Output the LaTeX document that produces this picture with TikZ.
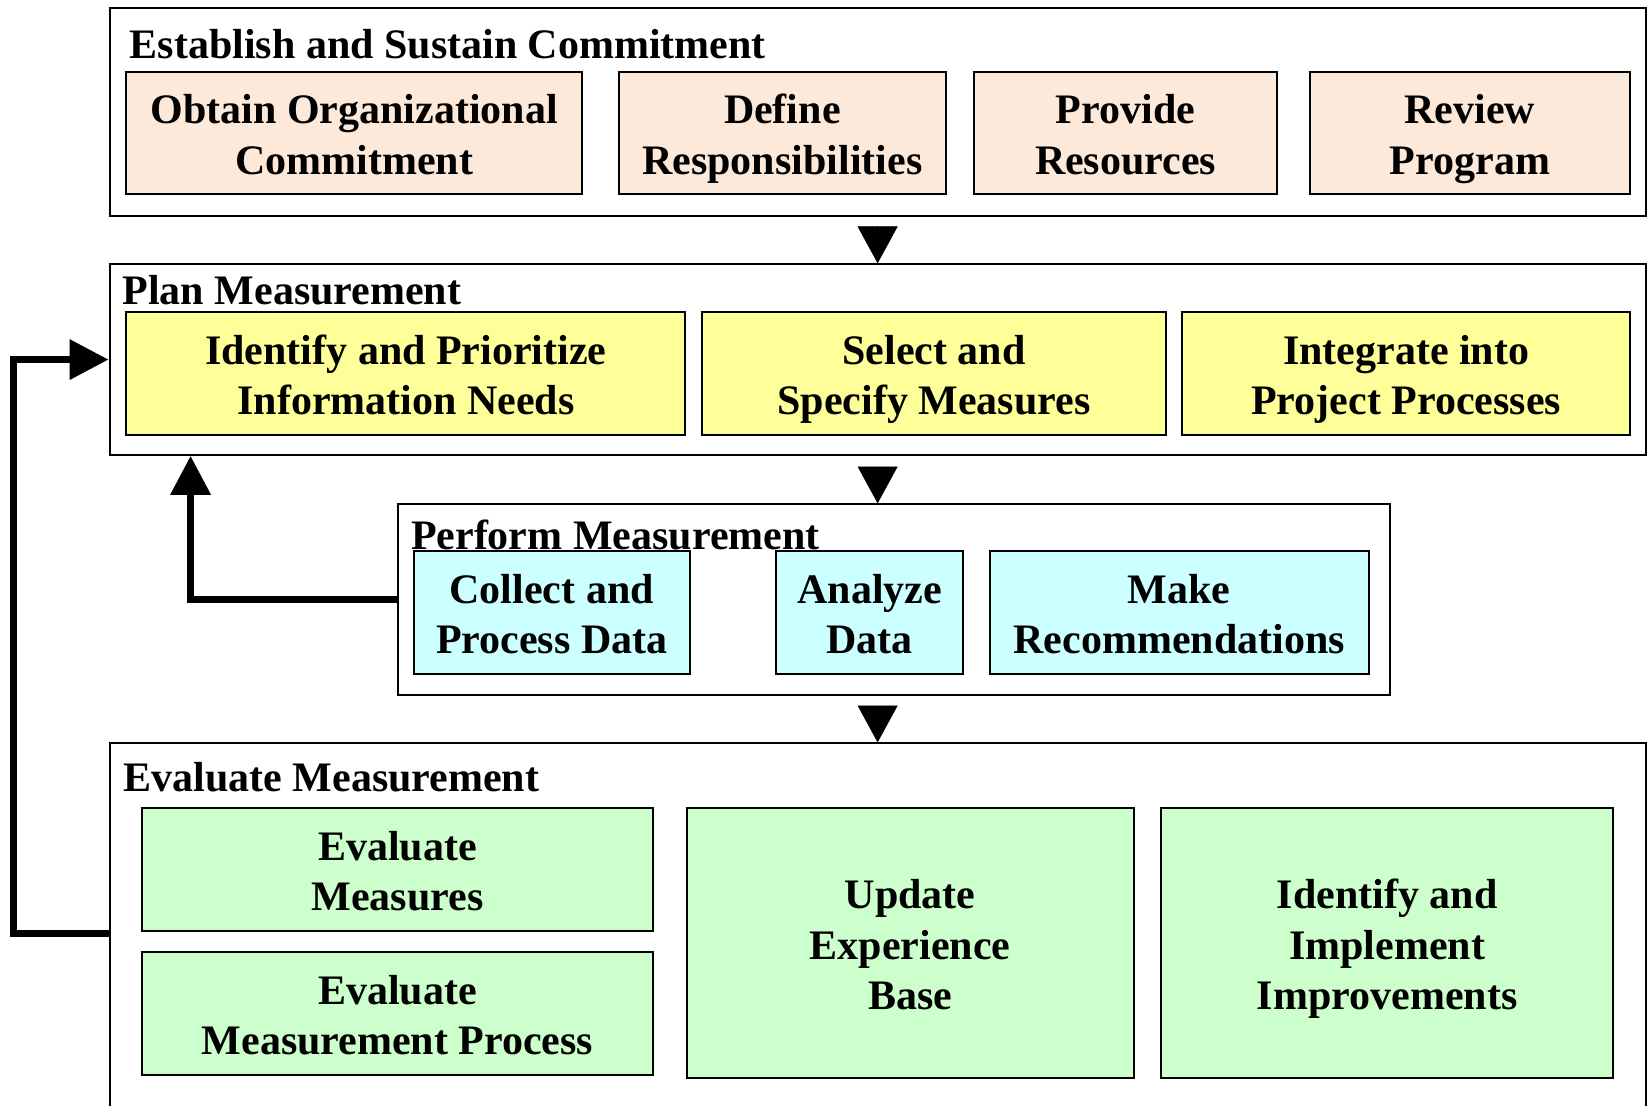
\documentclass[tikz,border=0pt]{standalone}
\usepackage{fontspec}
\setmainfont{Liberation Serif}
\usetikzlibrary{fit,arrows.meta}
\definecolor{peach}{HTML}{FDE9D9}
\definecolor{lemon}{HTML}{FFFF99}
\definecolor{aqua}{HTML}{CCFFFF}
\definecolor{mint}{HTML}{CCFFCC}
\newcommand{\lines}[1]{\begin{tabular}{@{}c@{}}#1\end{tabular}}

\begin{document}
\begin{tikzpicture}[x=0.52645pt, y=-0.52645pt,
      every node/.style = {inner sep=0pt,
        font=\bfseries\fontsize{21}{25.3}\selectfont},
      phase/.style = {draw, line width=1pt},
      activity/.style = {draw, line width=1pt},
      boxtext/.style = {anchor=center, yshift=-3pt},
      phasetitle/.style = {anchor=base west},
      flowtip/.style = {-{Triangle[width=20pt,length=18.4pt]}, line width=0.2pt},
      loopback/.style = {line width=3.5pt, -{Triangle[width=19.5pt,length=19.5pt]}}]
    \useasboundingbox (0,0) rectangle (1568,1050);
    \begin{scope}
    \clip (0,0) rectangle (1568,1050);
    % the four phases
    \node[phase, fit={(104,8) (1563,205)}] (estab) {};
    \node[phase, fit={(104,251) (1563,432)}] (plan) {};
    \node[phase, fit={(378,479) (1320,660)}] (perform) {};
    \node[phase, fit={(104,706) (1563,1068)}] (eval) {};
    \end{scope}
    \node[phasetitle] (estabtitle) at (123,56) {Establish and Sustain Commitment};
    \node[phasetitle] (plantitle) at (116,289) {Plan Measurement};
    \node[phasetitle] (performtitle) at (390,522) {Perform Measurement};
    \node[phasetitle] (evaltitle) at (117,752) {Evaluate Measurement};
    % activities
    \node[activity, fill=peach, fit={(120,68) (553,184)}] (obtain) {};
    \node[activity, fill=peach, fit={(588,68) (898,184)}] (define) {};
    \node[activity, fill=peach, fit={(925,68) (1213,184)}] (provide) {};
    \node[activity, fill=peach, fit={(1244,68) (1548,184)}] (review) {};
    \node[activity, fill=lemon, fit={(120,296) (651,413)}] (identify) {};
    \node[activity, fill=lemon, fit={(667,296) (1107,413)}] (select) {};
    \node[activity, fill=lemon, fit={(1123,296) (1548,413)}] (integrate) {};
    \node[activity, fill=aqua, fit={(393,523) (655,640)}] (collect) {};
    \node[activity, fill=aqua, fit={(737,523) (915,640)}] (analyze) {};
    \node[activity, fill=aqua, fit={(940,523) (1300,640)}] (recommend) {};
    \node[activity, fill=mint, fit={(135,767) (620,884)}] (evalmeasures) {};
    \node[activity, fill=mint, fit={(135,904) (620,1021)}] (evalprocess) {};
    \node[activity, fill=mint, fit={(652,767) (1077,1024)}] (update) {};
    \node[activity, fill=mint, fit={(1103,767) (1532,1024)}] (improve) {};
    \node[boxtext] (obtaintext) at (obtain) {\lines{Obtain Organizational\\Commitment}};
    \node[boxtext] (definetext) at (define) {\lines{Define\\Responsibilities}};
    \node[boxtext] (providetext) at (provide) {\lines{Provide\\Resources}};
    \node[boxtext] (reviewtext) at (review) {\lines{Review\\Program}};
    \node[boxtext] (identifytext) at (identify) {\lines{Identify and Prioritize\\Information Needs}};
    \node[boxtext] (selecttext) at (select) {\lines{Select and\\Specify Measures}};
    \node[boxtext] (integratetext) at (integrate) {\lines{Integrate into\\Project Processes}};
    \node[boxtext] (collecttext) at (collect) {\lines{Collect and\\Process Data}};
    \node[boxtext] (analyzetext) at (analyze) {\lines{Analyze\\Data}};
    \node[boxtext] (recommendtext) at (recommend) {\lines{Make\\Recommendations}};
    \node[boxtext] (evalmeasurestext) at (evalmeasures) {\lines{Evaluate\\Measures}};
    \node[boxtext] (evalprocesstext) at (evalprocess) {\lines{Evaluate\\Measurement Process}};
    \node[boxtext] (updatetext) at (update) {\lines{Update\\Experience\\Base}};
    \node[boxtext] (improvetext) at (improve) {\lines{Identify and\\Implement\\Improvements}};
    % flow between phases
    \coordinate (t1) at (plan.north);
    \coordinate (t2) at (plan.south |- perform.north);
    \coordinate (t3) at (plan.south |- eval.north);
    \draw[flowtip] ([yshift=18.4pt]t1) -- (t1);
    \draw[flowtip] ([yshift=18.4pt]t2) -- (t2);
    \draw[flowtip] ([yshift=18.4pt]t3) -- (t3);
    % feedback
    \coordinate (bend1) at (181,0 |- perform.west);
    \coordinate (bend2) at (13,0 |- eval.west);
    \draw[loopback] (perform.west) -- (bend1) -- (bend1 |- plan.south);
    \draw[loopback] (eval.west) -- (bend2) -- (bend2 |- plan.west) -- (plan.west);
  \end{tikzpicture}
\end{document}
